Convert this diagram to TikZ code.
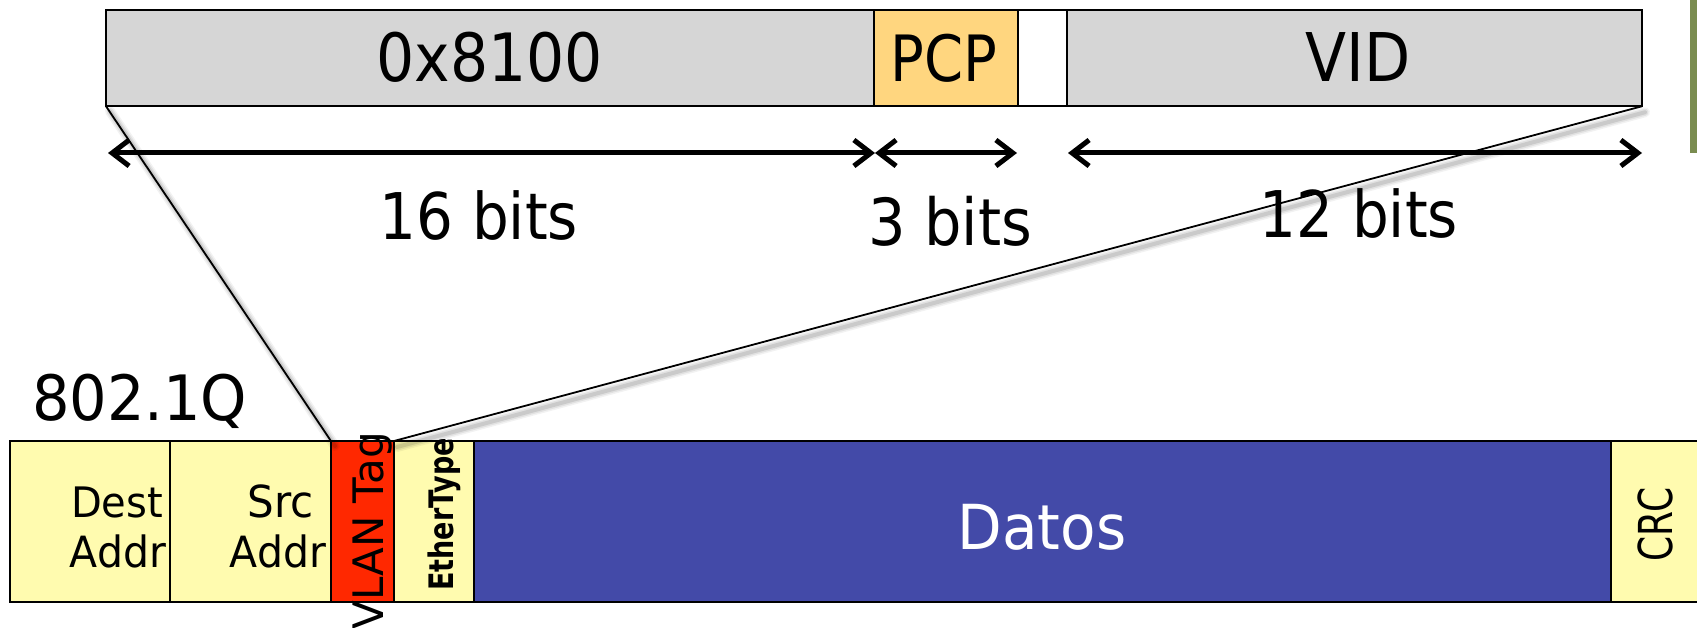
\documentclass[tikz,border=0pt]{standalone}
\usepackage{fontspec}
\setmainfont{DejaVu Sans}
\usetikzlibrary{arrows.meta}
\definecolor{topgray}{HTML}{D6D6D6}
\definecolor{pcporange}{HTML}{FFD67F}
\definecolor{frameyellow}{HTML}{FFFBAF}
\definecolor{tagred}{HTML}{FF2800}
\definecolor{datablue}{HTML}{434AA8}
\definecolor{sidegreen}{HTML}{7A8C50}
\newcommand{\fs}[1]{\fontsize{#1}{#1}\selectfont}
\newcommand{\tall}[2]{\scalebox{1}[#1]{#2}}
\begin{document}
\begin{tikzpicture}[x=1pt,y=-1pt,
  field/.style={draw=black, line width=2pt, inner sep=0pt, outer sep=0pt},
  topfield/.style={field, minimum height=96.5pt},
  botfield/.style={field, minimum height=161pt, fill=frameyellow},
  txt/.style={inner sep=0pt, outer sep=0pt},
  conn/.style={line width=1.8pt, draw=black},
  shadowline/.style={draw=black, opacity=0.07, line cap=round},
  dimarrow/.style={line width=5pt, >={Straight Barb[length=17pt,width=26pt]}, <->}
]
\useasboundingbox (0,0) rectangle (1697,628);
\clip (0,0) rectangle (1697,628);

% side artifact
\fill[sidegreen] (1690,0) rectangle (1697,153);

% top tag fields
\node[topfield, fill=topgray, minimum width=768pt] (f8100) at (490,58) {};
\node[topfield, fill=pcporange, minimum width=144pt] (fpcp) at (946,58) {};
\node[topfield, fill=white, minimum width=49pt] (fdei) at (1042.5,58) {};
\node[topfield, fill=topgray, minimum width=575pt] (fvid) at (1354.5,58) {};
\node[txt, anchor=base] (t8100) at (490,82) {\fs{60}\tall{1.11}{0x8100}};
\node[txt, anchor=base] (tpcp) at (944,82) {\fs{56}\tall{1.14}{PCP}};
\node[txt, anchor=base] (tvid) at (1358,82) {\fs{60}\tall{1.12}{VID}};

% bottom frame fields
\node[botfield, minimum width=160pt] (dest) at (90,521.5) {};
\node[botfield, minimum width=161pt] (src) at (250.5,521.5) {};
\node[botfield, fill=tagred, minimum width=63pt] (vlan) at (362.5,521.5) {};
\node[botfield, minimum width=80pt] (ether) at (434,521.5) {};
\node[botfield, fill=datablue, minimum width=1137pt] (datos) at (1042.5,521.5) {};
\node[botfield, minimum width=89pt] (crc) at (1655.5,521.5) {};

% shadows of the connecting lines
\foreach \w/\o in {10/0.05,7/0.07,4/0.1}{
  \draw[shadowline, line width=\w pt, opacity=\o] ([shift={(4,5)}]f8100.south west) -- ([shift={(4,5)}]vlan.north west);
  \draw[shadowline, line width=\w pt, opacity=\o] ([shift={(3,6)}]fvid.south east) -- ([shift={(3,6)}]vlan.north east);
}
% connecting lines
\draw[conn] (f8100.south west) -- (vlan.north west);
\draw[conn] (fvid.south east) -- (vlan.north east);

% dimension arrows
\coordinate (d0) at (108,153);
\coordinate (d1) at (875,153);
\coordinate (d2) at (1017,153);
\coordinate (d3) at (1068,153);
\coordinate (d4) at (1642,153);
\draw[dimarrow] (d0) -- (d1);
\draw[dimarrow] (d1) -- (d2);
\draw[dimarrow] (d3) -- (d4);

% bit labels
\node[txt, anchor=base] (b16) at (479,240) {\fs{58}\tall{1.11}{16 bits}};
\node[txt, anchor=base] (b3) at (950,246) {\fs{59}\tall{1.1}{3 bits}};
\node[txt, anchor=base] (b12) at (1359,238) {\fs{58}\tall{1.11}{12 bits}};

% frame title
\node[txt, anchor=base west] (title) at (32,420) {\fs{59}\tall{1.06}{802.1Q}};

% field labels
\node[txt, anchor=base east] (destA) at (163,517) {\fs{40}\tall{1.05}{Dest}};
\node[txt, anchor=base east] (destB) at (166,567) {\fs{41}\tall{1.05}{Addr}};
\node[txt, anchor=base east] (srcA) at (314,517) {\fs{42}\tall{1.05}{Src}};
\node[txt, anchor=base east] (srcB) at (326,567) {\fs{41}\tall{1.05}{Addr}};
\node[txt, rotate=90, anchor=base east] (vlant) at (383,432) {\fs{42}VLAN Tag};
\node[txt, rotate=90, anchor=base east] (ethert) at (453,438) {\fs{27}\bfseries\tall{1.25}{EtherType}};
\node[txt, text=white, anchor=base] (datost) at (1042,549) {\fs{58}\tall{1.07}{Datos}};
\node[txt, rotate=90, anchor=base] (crct) at (1672,524.5) {\fs{36}\tall{1.3}{CRC}};
\end{tikzpicture}
\end{document}
